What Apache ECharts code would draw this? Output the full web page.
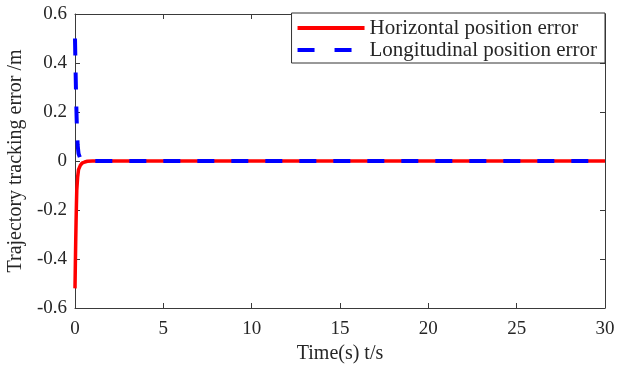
<!DOCTYPE html>
<html>
<head>
<meta charset="utf-8">
<script src="https://cdn.jsdelivr.net/npm/echarts@6/dist/echarts.min.js"></script>
<style>
html,body{margin:0;padding:0;background:#fff;}
#chart{width:619px;height:365px;}
</style>
</head>
<body>
<div id="chart"></div>
<script>
// Data
var seriesNames = ['Horizontal position error', 'Longitudinal position error'];
var redTime   = [0, 0.02, 0.04, 0.06, 0.08, 0.10, 0.15, 0.20, 0.30, 0.40, 0.55, 0.70, 1, 30];
var redValue  = [-0.52, -0.42, -0.33, -0.25, -0.18, -0.12, -0.065, -0.035, -0.018, -0.009, -0.004, -0.001, 0, 0];
var blueTime  = [0, 0.03, 0.06, 0.09, 0.12, 0.15, 0.20, 0.30, 0.40, 0.55, 0.70, 1, 30];
var blueValue = [0.5, 0.38, 0.27, 0.18, 0.11, 0.065, 0.03, 0.01, 0.004, 0.001, 0, 0, 0];
var xTicks = [0, 5, 10, 15, 20, 25, 30];
var yTicks = [-0.6, -0.4, -0.2, 0, 0.2, 0.4, 0.6];

function pairs(t, v) { return t.map(function (x, i) { return [x, v[i]]; }); }

var FONT = "'Liberation Serif', 'Times New Roman', serif";
var AX = '#3a3a3a';
var TXT = '#262626';

var chart = echarts.init(document.getElementById('chart'), null, {renderer: 'canvas'});
var baseX = {
  type: 'value', min: xTicks[0], max: xTicks[xTicks.length - 1], interval: xTicks[1] - xTicks[0],
  axisLine: {show: true, onZero: false, lineStyle: {color: AX, width: 1}},
  axisTick: {show: true, inside: true, length: 5, lineStyle: {color: AX}},
  splitLine: {show: false}
};
var baseY = {
  type: 'value', min: yTicks[0], max: yTicks[yTicks.length - 1], interval: 0.2,
  axisLine: {show: true, onZero: false, lineStyle: {color: AX, width: 1}},
  axisTick: {show: true, inside: true, length: 5, lineStyle: {color: AX}},
  splitLine: {show: false}
};
var option = {
  animation: false,
  backgroundColor: '#fff',
  grid: {left: 75, right: 14, top: 14, bottom: 57, containLabel: false, outerBoundsMode: 'none'},
  legend: {
    orient: 'vertical', right: 14, top: 13,
    padding: [4, 8, 2, 6],
    itemWidth: 67, itemHeight: 4, itemGap: 0,
    backgroundColor: '#fff', borderColor: '#333', borderWidth: 1, borderRadius: 0,
    textStyle: {fontFamily: FONT, fontSize: 21, color: TXT, lineHeight: 22},
    data: [
      {name: seriesNames[0], icon: 'path://M0,0H67V4H0Z'},
      {name: seriesNames[1], icon: 'path://M0,0H17V4H0Z M37,0H54V4H37Z M67,0L67,4Z'}
    ]
  },
  xAxis: [
    Object.assign({}, baseX, {
      position: 'bottom',
      name: 'Time(s) t/s', nameLocation: 'middle', nameGap: 34,
      nameTextStyle: {fontFamily: FONT, fontSize: 20, color: TXT},
      axisLabel: {show: true, fontFamily: FONT, fontSize: 19, color: TXT, margin: 12}
    }),
    Object.assign({}, baseX, {position: 'top', axisLabel: {show: false}})
  ],
  yAxis: [
    Object.assign({}, baseY, {
      position: 'left',
      name: 'Trajectory tracking error /m', nameLocation: 'middle', nameGap: 48,
      nameTextStyle: {fontFamily: FONT, fontSize: 20, color: TXT},
      axisLabel: {show: true, fontFamily: FONT, fontSize: 19, color: TXT, margin: 8,
        formatter: function (v) { return String(Math.round(v * 10) / 10); }}
    }),
    Object.assign({}, baseY, {position: 'right', axisLabel: {show: false}})
  ],
  series: [
    {
      name: seriesNames[0], type: 'line', xAxisIndex: 0, yAxisIndex: 0,
      data: pairs(redTime, redValue), showSymbol: false, symbol: 'none', clip: false,
      lineStyle: {color: '#ff0000', width: 3.5, type: 'solid'},
      itemStyle: {color: '#ff0000'}, z: 2
    },
    {
      name: seriesNames[1], type: 'line', xAxisIndex: 0, yAxisIndex: 0,
      data: pairs(blueTime, blueValue), showSymbol: false, symbol: 'none', clip: false,
      lineStyle: {color: '#0000ff', width: 4, type: [17, 17]},
      itemStyle: {color: '#0000ff'}, z: 3
    }
  ]
};
chart.setOption(option);
</script>
</body>
</html>
